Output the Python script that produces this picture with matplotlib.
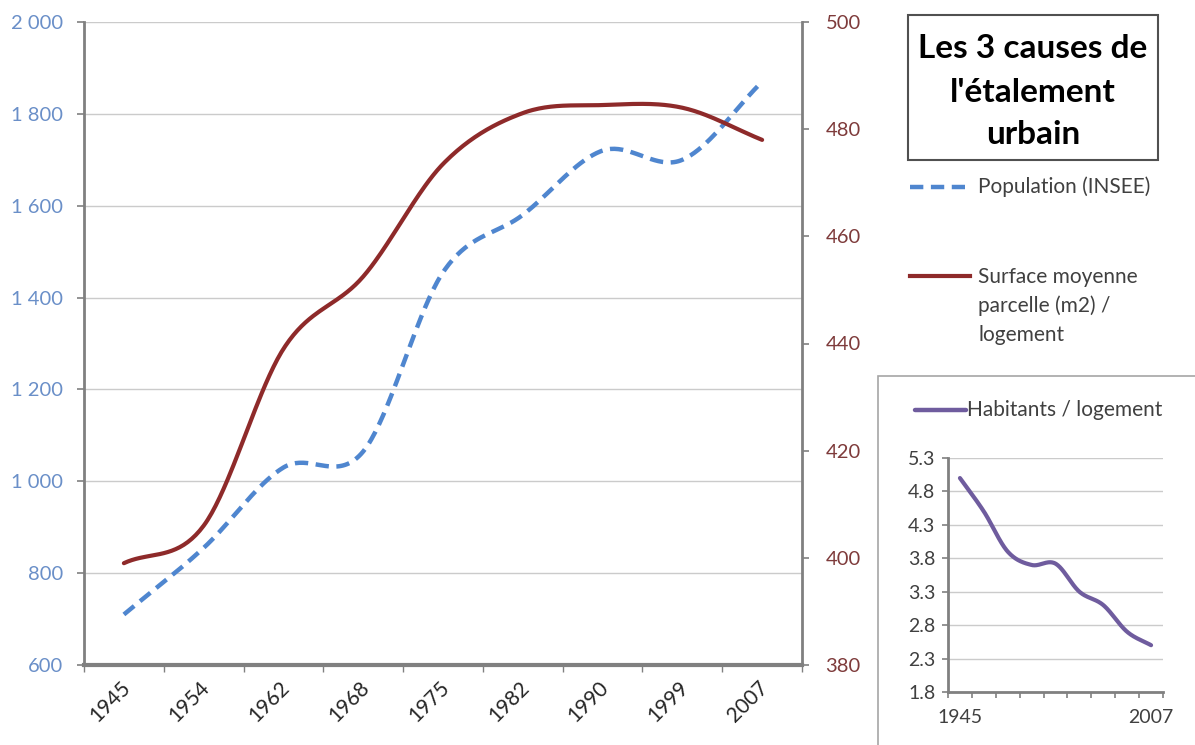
import numpy as np
import matplotlib
matplotlib.use("Agg")
import matplotlib.pyplot as plt
import matplotlib.transforms as mtransforms
from matplotlib.patches import Rectangle
from matplotlib.lines import Line2D

plt.rcParams['font.family'] = ['Lato', 'DejaVu Sans']

years = ["1945", "1954", "1962", "1968", "1975", "1982", "1990", "1999", "2007"]
population = [710, 855, 1030, 1065, 1455, 1580, 1720, 1700, 1870]
surface = [399, 406, 439, 452.5, 473.5, 483, 484.5, 484, 478]
habitants = [5.0, 4.5, 3.9, 3.7, 3.72, 3.3, 3.1, 2.7, 2.5]

left_ticks = [600, 800, 1000, 1200, 1400, 1600, 1800, 2000]
right_ticks = [380, 400, 420, 440, 460, 480, 500]
inset_ticks = [1.8, 2.3, 2.8, 3.3, 3.8, 4.3, 4.8, 5.3]

title_lines = ["Les 3 causes de", "l'étalement", "urbain"]
surface_label = ["Surface moyenne", "parcelle (m2) /", "logement"]

BLUE = "#4F86CF"
BLUE_TXT = "#6A8FC8"
RED = "#8E2A2A"
RED_TXT = "#7E3B3B"
PURPLE = "#6F5C9E"
GRID = "#CBCBCB"
AXIS = "#808080"
TXT = "#404040"

W, H = 1195, 745


def smooth(values, n=40):
    """Smoothed path through the points (cubic Hermite, Catmull-Rom tangents)."""
    y = np.asarray(values, float)
    k = len(y)
    m = np.empty(k)
    m[1:-1] = (y[2:] - y[:-2]) / 2
    m[0] = y[1] - y[0]
    m[-1] = y[-1] - y[-2]
    t = np.linspace(0, 1, n, endpoint=False)
    h00 = 2 * t**3 - 3 * t**2 + 1
    h10 = t**3 - 2 * t**2 + t
    h01 = -2 * t**3 + 3 * t**2
    h11 = t**3 - t**2
    xs, ys = [], []
    for i in range(k - 1):
        xs.append(i + t)
        ys.append(h00 * y[i] + h10 * m[i] + h01 * y[i + 1] + h11 * m[i + 1])
    xs.append([k - 1])
    ys.append([y[-1]])
    return np.concatenate(xs), np.concatenate(ys)


def fig_rect(x0, y0, x1, y1):
    return [x0 / W, 1 - y1 / H, (x1 - x0) / W, (y1 - y0) / H]


def fy(y):
    return 1 - y / H


fig = plt.figure(figsize=(W / 100, H / 100), dpi=100)

# ---- main chart ----
ax = fig.add_axes(fig_rect(84, 22, 802, 665))
ax2 = ax.twinx()
idx = np.arange(len(years))

ax.set_xlim(-0.5, len(years) - 0.5)
ax.set_ylim(600, 2000)
ax.set_yticks(left_ticks)
ax.set_yticklabels([f"{v:,}".replace(",", " ") for v in left_ticks])
ax.yaxis.grid(True, color=GRID, lw=1.0)
ax.set_axisbelow(True)

ax2.set_ylim(380, 500)
ax2.set_yticks(right_ticks)

xs, ys = smooth(population)
ax.plot(xs, ys, color=BLUE, lw=3.2, dashes=(3.0, 1.7), solid_capstyle='butt',
        zorder=3)
xs, ys = smooth(surface)
ax2.plot(xs, ys, color=RED, lw=3.0, solid_capstyle='round', zorder=3)

for a in (ax, ax2):
    a.spines['top'].set_visible(False)
    for s in a.spines.values():
        s.set_color(AXIS)
ax.spines['left'].set_linewidth(2)
ax.spines['bottom'].set_linewidth(3)
ax.spines['right'].set_visible(False)
ax2.spines['left'].set_visible(False)
ax2.spines['bottom'].set_visible(False)
ax2.spines['right'].set_linewidth(2)

ax.tick_params(axis='y', direction='out', length=5, width=1.2, color=AXIS,
               labelcolor=BLUE_TXT, labelsize=14.5, pad=10)
ax2.tick_params(axis='y', direction='out', length=5, width=1.2, color=AXIS,
                labelcolor=RED_TXT, labelsize=14.5, pad=12)

# category boundaries carry tick marks, centres carry the labels
ax.set_xticks(np.arange(-0.5, len(years)))
ax.set_xticklabels([])
ax.set_xticks(idx, minor=True)
ax.set_xticklabels(years, minor=True, rotation=45, ha='right', va='center',
                   rotation_mode='anchor', fontsize=15, color="#262626")
ax.tick_params(axis='x', which='major', direction='out', length=5, width=1.0,
               color=AXIS)
ax.tick_params(axis='x', which='minor', length=0, pad=14)
shift = mtransforms.ScaledTranslation(3 / 100, 0, fig.dpi_scale_trans)
for lbl in ax.get_xticklabels(minor=True):
    lbl.set_transform(lbl.get_transform() + shift)

# ---- title box ----
fig.add_artist(Rectangle((908 / W, fy(160)), 250 / W, 145 / H,
                         transform=fig.transFigure, fill=False,
                         edgecolor="#505050", lw=1.5))
for line, yc in zip(title_lines, [49, 92, 134]):
    fig.text(1033 / W, fy(yc), line, ha='center', va='center',
             fontsize=24, fontweight='bold', color='black')

# ---- legend entries ----
fig.add_artist(Line2D([910 / W, 965 / W], [fy(187), fy(187)],
                      transform=fig.transFigure, color=BLUE, lw=3.2,
                      dashes=(3.0, 1.7)))
fig.text(978 / W, fy(187), "Population (INSEE)", ha='left', va='center',
         fontsize=15, color=TXT)
fig.add_artist(Line2D([910 / W, 970 / W], [fy(276), fy(276)],
                      transform=fig.transFigure, color=RED, lw=3.0))
for line, yc in zip(surface_label, [277, 306, 335]):
    fig.text(978 / W, fy(yc), line, ha='left', va='center',
             fontsize=15, color=TXT)

# ---- inset chart ----
fig.add_artist(Rectangle((878 / W, fy(760)), 340 / W, 384 / H,
                         transform=fig.transFigure, fill=False,
                         edgecolor="#A6A6A6", lw=1.2))
fig.add_artist(Line2D([915 / W, 966 / W], [fy(410), fy(410)],
                      transform=fig.transFigure, color=PURPLE, lw=3.2,
                      solid_capstyle='round'))
fig.text(967 / W, fy(410), "Habitants / logement", ha='left', va='center',
         fontsize=15, color=TXT)

axi = fig.add_axes(fig_rect(948, 458, 1163, 692))
axi.set_xlim(-0.5, len(years) - 0.5)
axi.set_ylim(1.8, 5.3)
axi.set_yticks(inset_ticks)
axi.set_yticklabels([f"{v:.1f}" for v in inset_ticks])
axi.yaxis.grid(True, color=GRID, lw=1.0)
axi.set_axisbelow(True)
xs, ys = smooth(habitants)
axi.plot(xs, ys, color=PURPLE, lw=3.0, solid_capstyle='round')
for s in ('top', 'right'):
    axi.spines[s].set_visible(False)
for s in ('left', 'bottom'):
    axi.spines[s].set_color(AXIS)
    axi.spines[s].set_linewidth(2)
axi.tick_params(axis='y', direction='out', length=4, width=1.2, color=AXIS,
                labelcolor=TXT, labelsize=14, pad=5)
axi.set_xticks(np.arange(-0.5, len(years)))
axi.set_xticklabels([])
axi.set_xticks([0, len(years) - 1], minor=True)
axi.set_xticklabels([years[0], years[-1]], minor=True)
axi.tick_params(axis='x', which='major', direction='out', length=4, width=1.2,
                color=AXIS)
axi.tick_params(axis='x', which='minor', length=0, labelsize=14,
                labelcolor=TXT, pad=12)

fig.savefig("out.png", dpi=100, facecolor='white')
